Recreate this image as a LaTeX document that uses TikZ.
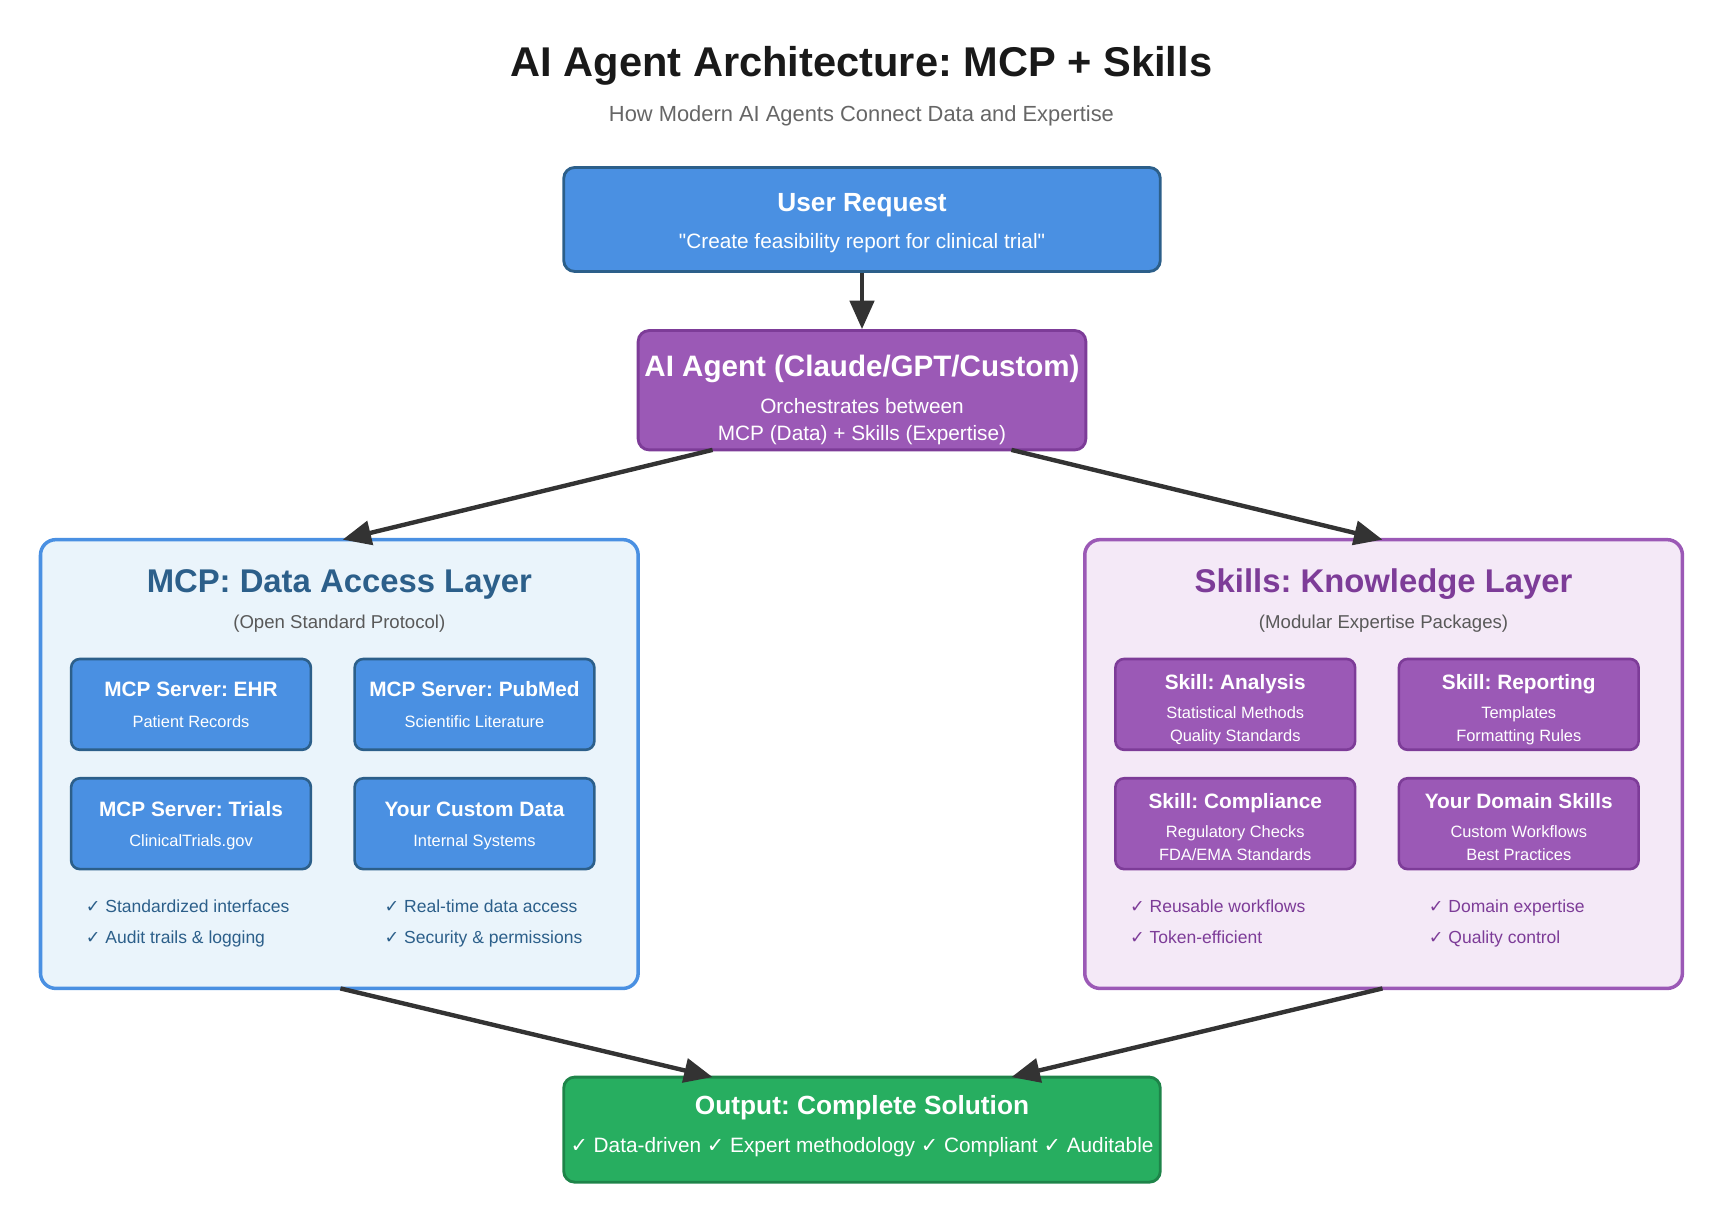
\documentclass[tikz,border=0pt]{standalone}
\usepackage{fontspec}
\setmainfont{Liberation Sans}
\newfontfamily\ckfont{DejaVu Sans}
\newcommand\ckm{{\ckfont ✓}}
\usetikzlibrary{arrows.meta}
\definecolor{blu}{HTML}{4A90E2}
\definecolor{bluD}{HTML}{2C5F8A}
\definecolor{bluL}{HTML}{EAF4FB}
\definecolor{pur}{HTML}{9B59B6}
\definecolor{purD}{HTML}{7D3C98}
\definecolor{purL}{HTML}{F4E9F7}
\definecolor{grn}{HTML}{27AE60}
\definecolor{grnD}{HTML}{1E8449}
\definecolor{ar}{HTML}{333333}
\frenchspacing
\begin{document}
\frenchspacing
\begin{tikzpicture}[x=0.5pt,y=-0.5pt,
  box/.style={draw, rounded corners=5pt, line width=1.3pt, inner sep=0pt},
  sbox/.style={draw, rounded corners=4pt, line width=1.2pt, inner sep=0pt, minimum width=109.5pt, minimum height=41.5pt},
  txt/.style={inner sep=0pt, anchor=base},
  arr/.style={ar, line width=2pt, -{Triangle[length=13pt,width=11pt]}},
  chk/.style={inner sep=0pt, anchor=base west, font=\fontsize{8}{9.6}\selectfont}]
\useasboundingbox (0,0) rectangle (1575,1114);
\node[txt, font=\fontsize{19}{22}\selectfont\bfseries, text=black!90] (title) at (787,70) {AI Agent Architecture: MCP + Skills};
\node[txt, font=\fontsize{10}{12}\selectfont, text=black!60] (sub) at (787,111) {How Modern AI Agents Connect Data and Expertise};
% user
\node[box, fill=blu, draw=bluD, minimum width=272.5pt, minimum height=47.5pt] (user) at (787.5,200.5) {};
\node[txt, white, font=\fontsize{12}{14}\selectfont\bfseries] (u1) at (787.5,193) {User Request};
\node[txt, white, font=\fontsize{9.5}{11}\selectfont] (u2) at (787.5,227) {\textquotedbl Create feasibility report for clinical trial\textquotedbl};
% agent
\node[box, fill=pur, draw=purD, minimum width=204.5pt, minimum height=54.5pt] (agent) at (787.5,356.5) {};
\node[txt, white, font=\fontsize{13.5}{16}\selectfont\bfseries] (a1) at (787.5,344) {AI Agent (Claude/GPT/Custom)};
\node[txt, white, font=\fontsize{9.5}{11}\selectfont] (a2) at (787.5,378) {Orchestrates between};
\node[txt, white, font=\fontsize{9.5}{11}\selectfont] (a3) at (787.5,402) {MCP (Data) + Skills (Expertise)};
% mcp layer
\node[box, fill=bluL, draw=blu, line width=1.6pt, rounded corners=7pt, minimum width=273pt, minimum height=205pt] (mcp) at (310,698) {};
\node[txt, text=bluD, font=\fontsize{15}{18}\selectfont\bfseries] (m1) at (310,541) {MCP: Data Access Layer};
\node[txt, text=black!65, font=\fontsize{8.5}{10}\selectfont] (m2) at (310,574) {(Open Standard Protocol)};
\foreach \n/\x/\y/\t/\s in {e/174.5/643.5/MCP Server: EHR/Patient Records, p/433.5/643.5/MCP Server: PubMed/Scientific Literature, t/174.5/752.5/MCP Server: Trials/ClinicalTrials.gov, c/433.5/752.5/Your Custom Data/Internal Systems}{
  \node[sbox, fill=blu, draw=bluD] (\n) at (\x,\y) {};
  \node[txt, white, font=\fontsize{9.5}{11}\selectfont\bfseries] (\n1) at (\x,\y-7) {\t};
  \node[txt, white, font=\fontsize{7.5}{9}\selectfont] (\n2) at (\x,\y+21) {\s};
}
\node[chk, text=bluD] (mc1) at (78,834) {\ckm\ Standardized interfaces};
\node[chk, text=bluD] (mc2) at (78,862) {\ckm\ Audit trails \& logging};
\node[chk, text=bluD] (mc3) at (351,834) {\ckm\ Real-time data access};
\node[chk, text=bluD] (mc4) at (351,862) {\ckm\ Security \& permissions};
% skills layer
\node[box, fill=purL, draw=pur, line width=1.6pt, rounded corners=7pt, minimum width=273pt, minimum height=205pt] (sk) at (1264,698) {};
\node[txt, text=purD, font=\fontsize{15}{18}\selectfont\bfseries] (s1) at (1264,541) {Skills: Knowledge Layer};
\node[txt, text=black!65, font=\fontsize{8.5}{10}\selectfont] (s2) at (1264,574) {(Modular Expertise Packages)};
\foreach \n/\x/\y/\t/\s/\r in {sa/1128.5/643.5/Skill: Analysis/Statistical Methods/Quality Standards, sr/1387.5/643.5/Skill: Reporting/Templates/Formatting Rules, sc/1128.5/752.5/Skill: Compliance/Regulatory Checks/{FDA/EMA Standards}, sd/1387.5/752.5/Your Domain Skills/Custom Workflows/Best Practices}{
  \node[sbox, fill=pur, draw=purD] (\n) at (\x,\y) {};
  \node[txt, white, font=\fontsize{9.5}{11}\selectfont\bfseries] (\n1) at (\x,\y-14) {\t};
  \node[txt, white, font=\fontsize{7.5}{9}\selectfont] (\n2) at (\x,\y+13) {\s};
  \node[txt, white, font=\fontsize{7.5}{9}\selectfont] (\n3) at (\x,\y+34) {\r};
}
\node[chk, text=purD] (sc1) at (1032,834) {\ckm\ Reusable workflows};
\node[chk, text=purD] (sc2) at (1032,862) {\ckm\ Token-efficient};
\node[chk, text=purD] (sc3) at (1305,834) {\ckm\ Domain expertise};
\node[chk, text=purD] (sc4) at (1305,862) {\ckm\ Quality control};
% output
\node[box, fill=grn, draw=grnD, minimum width=272.5pt, minimum height=48pt] (out) at (787.5,1032) {};
\node[txt, white, font=\fontsize{12}{14}\selectfont\bfseries] (o1) at (787.5,1018) {Output: Complete Solution};
\node[txt, white, font=\fontsize{9.5}{11}\selectfont] (o2) at (787.5,1053) {\ckm\ Data-driven \ckm\ Expert methodology \ckm\ Compliant \ckm\ Auditable};
% arrows
\coordinate (aL) at (651,411); \coordinate (aR) at (924,411);
\coordinate (mT) at (313,493); \coordinate (sT) at (1263,493);
\coordinate (mB) at (311,903); \coordinate (sB) at (1263,903);
\coordinate (oL) at (651,984); \coordinate (oR) at (924,984);
\draw[arr] (user.south) -- (agent.north);
\draw[arr] (aL) -- (mT);
\draw[arr] (aR) -- (sT);
\draw[arr] (mB) -- (oL);
\draw[arr] (sB) -- (oR);
\end{tikzpicture}
\end{document}
